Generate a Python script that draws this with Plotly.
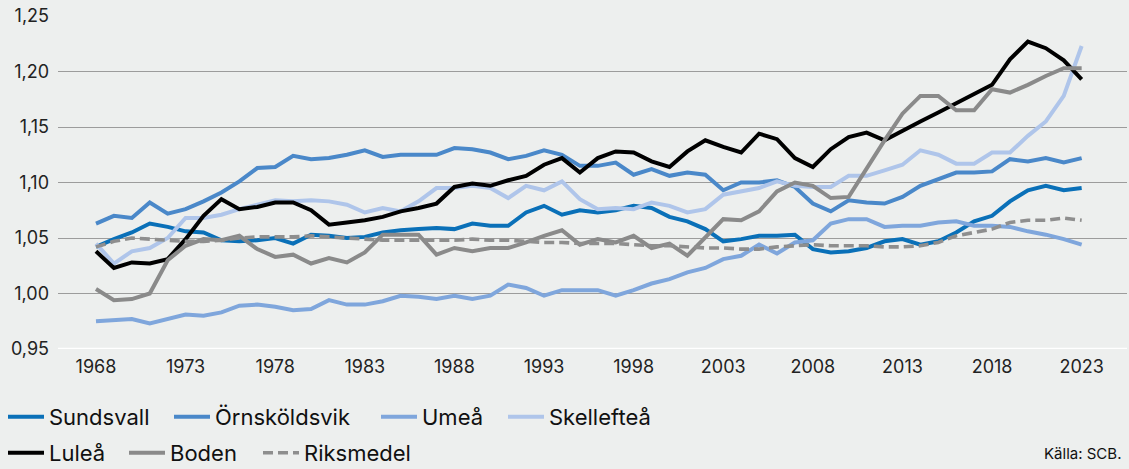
import plotly.graph_objects as go

years = list(range(1968, 2024))

sundsvall = [1.042, 1.049, 1.055, 1.063, 1.060, 1.056, 1.055, 1.048, 1.047, 1.048,
             1.050, 1.045, 1.053, 1.052, 1.050, 1.051, 1.055, 1.057, 1.058, 1.059,
             1.058, 1.063, 1.061, 1.061, 1.073, 1.079, 1.071, 1.075, 1.073, 1.075,
             1.079, 1.077, 1.069, 1.065, 1.058, 1.047, 1.049, 1.052, 1.052, 1.053,
             1.040, 1.037, 1.038, 1.041, 1.047, 1.049, 1.044, 1.047, 1.055, 1.065,
             1.070, 1.083, 1.093, 1.097, 1.093, 1.095]

ornskoldsvik = [1.063, 1.070, 1.068, 1.082, 1.072, 1.076, 1.083, 1.091, 1.101, 1.113,
                1.114, 1.124, 1.121, 1.122, 1.125, 1.129, 1.123, 1.125, 1.125, 1.125,
                1.131, 1.130, 1.127, 1.121, 1.124, 1.129, 1.125, 1.115, 1.115, 1.118,
                1.107, 1.112, 1.106, 1.109, 1.107, 1.093, 1.100, 1.100, 1.102, 1.096,
                1.081, 1.074, 1.084, 1.082, 1.081, 1.087, 1.097, 1.103, 1.109, 1.109,
                1.110, 1.121, 1.119, 1.122, 1.118, 1.122]

umea = [0.975, 0.976, 0.977, 0.973, 0.977, 0.981, 0.980, 0.983, 0.989, 0.990,
        0.988, 0.985, 0.986, 0.994, 0.990, 0.990, 0.993, 0.998, 0.997, 0.995,
        0.998, 0.995, 0.998, 1.008, 1.005, 0.998, 1.003, 1.003, 1.003, 0.998,
        1.003, 1.009, 1.013, 1.019, 1.023, 1.031, 1.034, 1.044, 1.036, 1.046,
        1.048, 1.063, 1.067, 1.067, 1.060, 1.061, 1.061, 1.064, 1.065, 1.061,
        1.061, 1.060, 1.056, 1.053, 1.049, 1.044]

skelleftea = [1.045, 1.027, 1.038, 1.041, 1.050, 1.068, 1.068, 1.071, 1.076, 1.080,
              1.084, 1.083, 1.084, 1.083, 1.080, 1.073, 1.077, 1.074, 1.083, 1.095,
              1.095, 1.097, 1.095, 1.086, 1.097, 1.093, 1.101, 1.085, 1.076, 1.077,
              1.076, 1.082, 1.079, 1.073, 1.076, 1.089, 1.092, 1.095, 1.101, 1.097,
              1.096, 1.096, 1.106, 1.106, 1.111, 1.116, 1.129, 1.125, 1.117, 1.117,
              1.127, 1.127, 1.142, 1.155, 1.178, 1.223]

lulea = [1.038, 1.023, 1.028, 1.027, 1.031, 1.049, 1.070, 1.085, 1.076, 1.078,
         1.082, 1.082, 1.075, 1.062, 1.064, 1.066, 1.069, 1.074, 1.077, 1.081,
         1.096, 1.099, 1.097, 1.102, 1.106, 1.116, 1.122, 1.109, 1.122, 1.128,
         1.127, 1.119, 1.114, 1.128, 1.138, 1.132, 1.127, 1.144, 1.139, 1.122,
         1.114, 1.130, 1.141, 1.145, 1.138, 1.147, 1.155, 1.163, 1.171, 1.179,
         1.188, 1.211, 1.227, 1.221, 1.210, 1.193]

boden = [1.004, 0.994, 0.995, 1.000, 1.030, 1.043, 1.049, 1.048, 1.052, 1.040,
         1.033, 1.035, 1.027, 1.032, 1.028, 1.037, 1.053, 1.053, 1.053, 1.035,
         1.041, 1.038, 1.041, 1.041, 1.046, 1.052, 1.057, 1.044, 1.049, 1.046,
         1.052, 1.041, 1.045, 1.034, 1.050, 1.067, 1.066, 1.074, 1.092, 1.100,
         1.097, 1.086, 1.087, 1.113, 1.138, 1.162, 1.178, 1.178, 1.165, 1.165,
         1.184, 1.181, 1.188, 1.196, 1.203, 1.203]

riksmedel = [1.042, 1.047, 1.050, 1.049, 1.048, 1.047, 1.047, 1.048, 1.050, 1.051,
             1.051, 1.051, 1.052, 1.051, 1.050, 1.049, 1.048, 1.048, 1.048, 1.048,
             1.048, 1.049, 1.048, 1.048, 1.047, 1.046, 1.046, 1.045, 1.045, 1.045,
             1.044, 1.043, 1.043, 1.042, 1.041, 1.041, 1.040, 1.040, 1.042, 1.043,
             1.044, 1.043, 1.043, 1.043, 1.042, 1.042, 1.043, 1.046, 1.052, 1.055,
             1.058, 1.064, 1.066, 1.066, 1.068, 1.066]

x_ticks = list(range(1968, 2024, 5))
y_ticks = [0.95, 1.00, 1.05, 1.10, 1.15, 1.20, 1.25]

FONT = "Inter"
BG = "#edefee"
W, H = 1129, 469

series = [
    ("Sundsvall", sundsvall, "#0a70b8", "solid"),
    ("Örnsköldsvik", ornskoldsvik, "#4a88c9", "solid"),
    ("Umeå", umea, "#7fa6dc", "solid"),
    ("Skellefteå", skelleftea, "#afc5ea", "solid"),
    ("Luleå", lulea, "#000000", "solid"),
    ("Boden", boden, "#8a8a8a", "solid"),
    ("Riksmedel", riksmedel, "#8e8e8e", "dash"),
]
# legend entry placement (sample start x, row centre y) in pixels
legend_pos = [(10, 417), (176, 417), (383, 417), (510, 417),
              (10, 453), (131, 453), (265, 453)]

fig = go.Figure()
legend_layout = {}
for i, (name, vals, col, dash) in enumerate(series):
    key = "legend" if i == 0 else f"legend{i + 1}"
    fig.add_trace(go.Scatter(
        x=years, y=vals, mode="lines", name=name,
        line=dict(color=col, width=4 if dash == "solid" else 3.6,
                  dash="solid" if dash == "solid" else "10px,5px"),
        legend=key,
    ))
    px, py = legend_pos[i]
    legend_layout[key] = dict(
        orientation="h", xref="container", yref="container",
        xanchor="left", yanchor="middle",
        x=(px - 7) / W, y=1 - py / H,
        font=dict(family=FONT, size=22, color="#111111"),
        bgcolor="rgba(0,0,0,0)", itemwidth=36)

fig.update_layout(
    width=W, height=H,
    margin=dict(l=58, r=2, t=16, b=120, autoexpand=False),
    paper_bgcolor=BG, plot_bgcolor=BG,
    font=dict(family=FONT, size=18, color="#222222"),
    separators=", ",
    showlegend=True,
    annotations=[dict(text="Källa: SCB.", xref="paper", yref="paper",
                      x=1, y=(349 - 453) / 333, xshift=-4,
                      xanchor="right", yanchor="middle", showarrow=False,
                      font=dict(family=FONT, size=15, color="#111111"))],
    shapes=[dict(type="line", xref="paper", yref="y", x0=0, x1=1, y0=0.95, y1=0.95,
                 line=dict(color="#ffffff", width=2.5), layer="above")],
    **legend_layout,
)
fig.update_xaxes(range=[1965.88, 2025.53], tickvals=x_ticks, ticks="",
                 showgrid=False, showline=False,
                 zeroline=False, tickfont=dict(size=18), ticklabelstandoff=5)
fig.update_yaxes(range=[0.95, 1.25], tickvals=y_ticks, tickformat=".2f", ticks="",
                 showgrid=True, gridcolor="#9c9c9c", gridwidth=1, zeroline=False,
                 tickfont=dict(size=18), ticklabelstandoff=8)

fig.write_html("out.html", config={"displayModeBar": False},
               post_script="document.body.style.margin='0';")
